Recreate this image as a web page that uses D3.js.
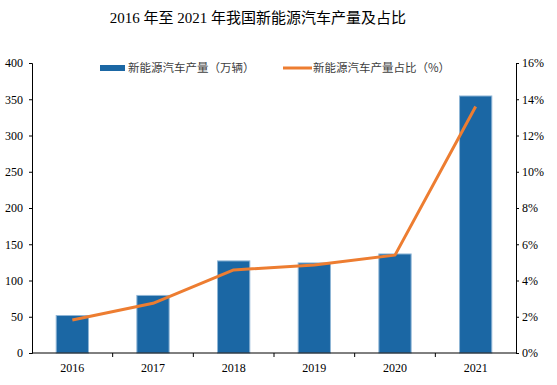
<!DOCTYPE html>
<html>
<head>
<meta charset="utf-8">
<style type="text/css">
body { margin: 0; background: #fff; }
text { font-family: "Liberation Serif", "Noto Sans CJK SC", serif; }
.domain, .tick line { stroke: #000; }
.bar { fill: #1b67a4; stroke: #8fb6d6; stroke-width: 1; }
.ratio { fill: none; stroke: #ed7d31; stroke-width: 3; stroke-linejoin: round; }
</style>
<script src="https://d3js.org/d3.v7.min.js"></script>
</head>
<body>
<script type="text/javascript">
var years  = ["2016", "2017", "2018", "2019", "2020", "2021"];
var output = [51.7, 79.4, 127, 124.2, 136.6, 354.5];   // 万辆
var share  = [1.82, 2.74, 4.58, 4.86, 5.4, 13.6];       // %
var leftTicks  = [0, 50, 100, 150, 200, 250, 300, 350, 400];
var rightTicks = [0, 2, 4, 6, 8, 10, 12, 14, 16];

var width = 557, height = 385;
var m = {left: 32, right: 41, top: 63, bottom: 32};

var svg = d3.select("body").append("svg").attr("width", width).attr("height", height);

var x = d3.scaleBand().domain(years).range([m.left, width - m.right]);
var yL = d3.scaleLinear().domain([0, 400]).range([height - m.bottom, m.top]);
var yR = d3.scaleLinear().domain([0, 16]).range([height - m.bottom, m.top]);

svg.append("text")
	.attr("x", 258).attr("y", 23)
	.attr("text-anchor", "middle")
	.attr("font-size", 15)
	.text("2016 年至 2021 年我国新能源汽车产量及占比");

// bars
var bw = x.bandwidth() * 0.4;
svg.selectAll(".bar").data(output).enter().append("rect")
	.attr("class", "bar")
	.attr("x", function(d, i) { return x(years[i]) + (x.bandwidth() - bw) / 2; })
	.attr("y", function(d) { return yL(d); })
	.attr("width", bw)
	.attr("height", function(d) { return yL(0) - yL(d); });

// line
var line = d3.line()
	.x(function(d, i) { return x(years[i]) + x.bandwidth() / 2; })
	.y(function(d) { return yR(d); });
svg.append("path").datum(share).attr("class", "ratio").attr("d", line);

// axes
var gL = svg.append("g").attr("transform", "translate(" + m.left + ",0)")
	.call(d3.axisLeft(yL).tickValues(leftTicks).tickSize(3).tickPadding(6));
var gR = svg.append("g").attr("transform", "translate(" + (width - m.right) + ",0)")
	.call(d3.axisRight(yR).tickValues(rightTicks).tickSize(3).tickPadding(3)
		.tickFormat(function(d) { return d + "%"; }));
var gB = svg.append("g").attr("transform", "translate(0," + (height - m.bottom) + ")")
	.call(d3.axisBottom(x).tickSize(0).tickPadding(10));

// category boundary ticks
svg.selectAll(".sep").data(years.slice(1)).enter().append("line")
	.attr("x1", function(d) { return x(d); }).attr("x2", function(d) { return x(d); })
	.attr("y1", height - m.bottom).attr("y2", height - m.bottom + 4)
	.attr("stroke", "#000");

[gL, gR, gB].forEach(function(g) {
	g.selectAll("text").attr("font-size", 12).attr("fill", "#000")
		.style("font-family", "'Liberation Serif', serif");
	g.select(".domain").attr("stroke", "#000");
});
gB.select(".domain").attr("d", "M" + m.left + ",0H" + (width - m.right));

// legend
var lg = svg.append("g");
lg.append("rect").attr("x", 100).attr("y", 65).attr("width", 25).attr("height", 6).attr("fill", "#1b67a4");
lg.append("text").attr("x", 128).attr("y", 72).attr("font-size", 11.5).attr("fill", "#404040")
	.style("font-family", "'Noto Sans CJK SC', sans-serif")
	.text("新能源汽车产量（万辆）");
lg.append("line").attr("x1", 283).attr("x2", 312).attr("y1", 68).attr("y2", 68)
	.attr("stroke", "#ed7d31").attr("stroke-width", 3);
lg.append("text").attr("x", 313).attr("y", 72).attr("font-size", 11.5).attr("fill", "#404040")
	.style("font-family", "'Noto Sans CJK SC', sans-serif")
	.text("新能源汽车产量占比（%）");
</script>
</body>
</html>
